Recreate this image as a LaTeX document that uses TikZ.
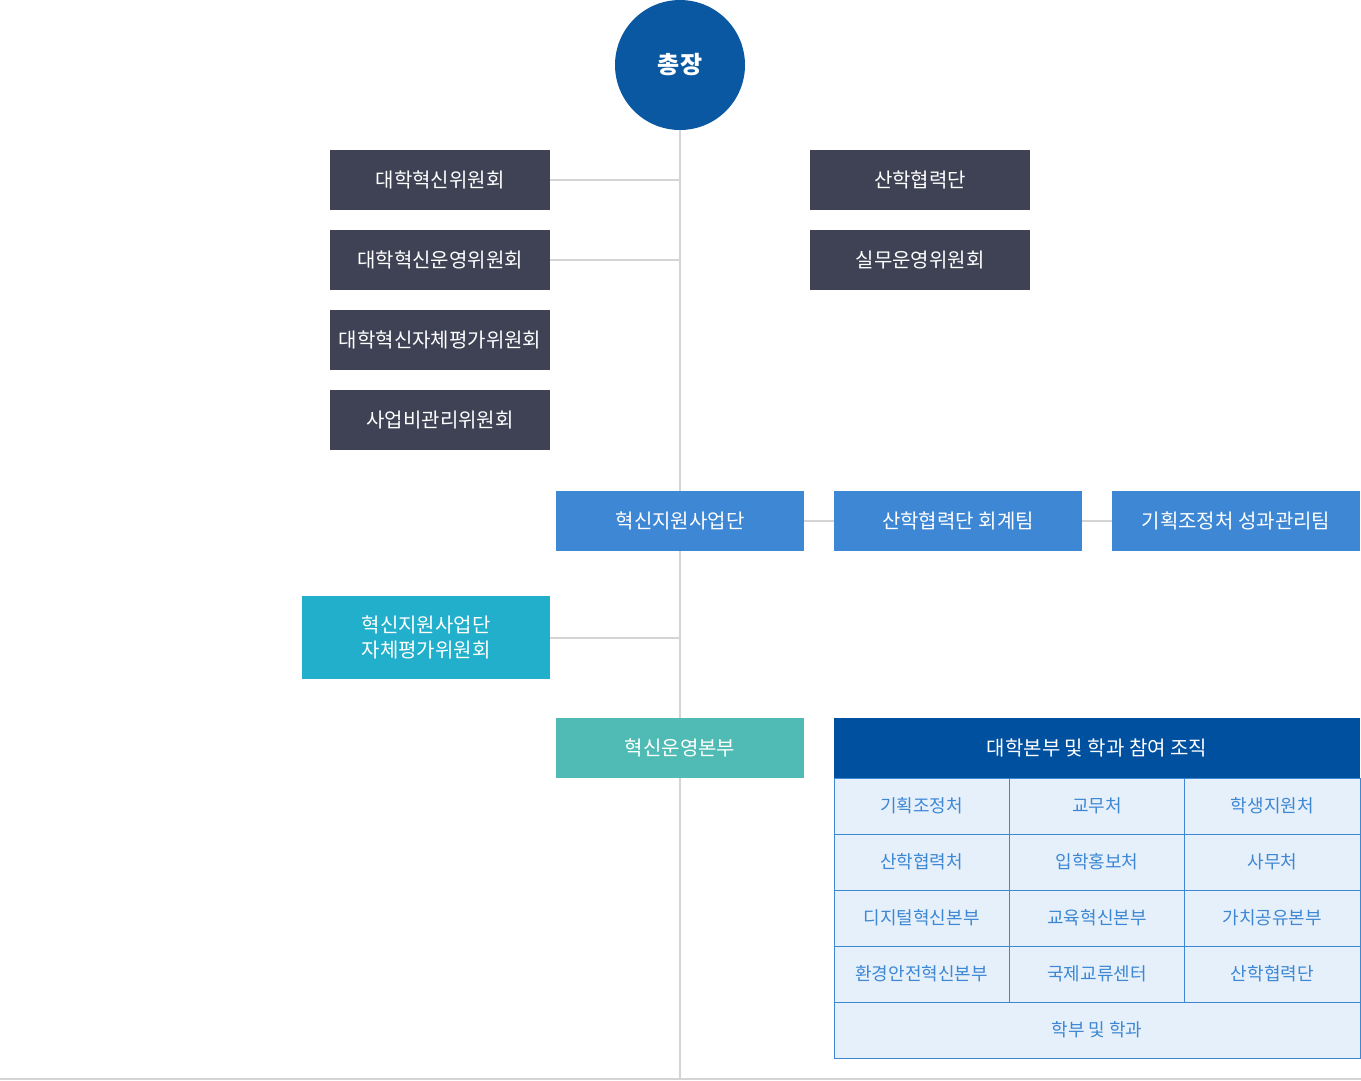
\documentclass[tikz,border=0pt]{standalone}
\usepackage{fontspec}
\setmainfont{Noto Sans CJK KR}
\definecolor{ceoC}{HTML}{0B58A2}
\definecolor{darkC}{HTML}{3F4254}
\definecolor{blueC}{HTML}{3D87D4}
\definecolor{cyanC}{HTML}{22AFCB}
\definecolor{tealC}{HTML}{4FBBB4}
\definecolor{headC}{HTML}{0050A0}
\definecolor{cellC}{HTML}{E6F0FA}
\definecolor{lineC}{HTML}{D4D4D4}
\tikzset{
  base/.style={rectangle, inner sep=0pt, text=white, font=\fontsize{20}{25}\selectfont, align=center},
  darkbox/.style={base, fill=darkC, minimum width=220pt, minimum height=60pt},
  bluebox/.style={base, fill=blueC, minimum width=248pt, minimum height=60pt},
  cyanbox/.style={base, fill=cyanC, minimum width=248pt, minimum height=83pt},
  tealbox/.style={base, fill=tealC, minimum width=248pt, minimum height=60pt},
  headbox/.style={base, fill=headC, minimum width=526pt, minimum height=60pt},
  cellbox/.style={rectangle, inner sep=0pt, fill=cellC, draw=blueC, line width=1pt, text=blueC,
    font=\fontsize{18}{22}\selectfont, minimum width=175.33pt, minimum height=56pt},
  widecell/.style={cellbox, minimum width=526pt},
  conn/.style={draw=lineC, line width=2pt},
}
\begin{document}
\begin{tikzpicture}[x=1pt, y=-1pt]
\useasboundingbox (0,0) rectangle (1361,1080);
% spine and bottom line
\coordinate (bot) at (680,1080);
\coordinate (bl) at (0,1079);
\coordinate (br) at (1361,1079);
\draw[conn] (bl) -- (br);
\node[circle, fill=ceoC, minimum size=130pt, inner sep=0pt, text=white,
  font=\fontsize{24}{28}\selectfont\bfseries] (ceo) at (680,65) {총장};
\draw[conn] (ceo.south) -- (bot);
% left dark boxes
\node[darkbox] (d1) at (440,180) {대학혁신위원회};
\node[darkbox] (d2) at (440,260) {대학혁신운영위원회};
\node[darkbox] (d3) at (440,340) {대학혁신자체평가위원회};
\node[darkbox] (d4) at (440,420) {사업비관리위원회};
% right dark boxes
\node[darkbox] (r1) at (920,180) {산학협력단};
\node[darkbox] (r2) at (920,260) {실무운영위원회};
\draw[conn] (d1.east) -- (d1.east -| ceo.south);
\draw[conn] (d2.east) -- (d2.east -| ceo.south);
% blue row
\node[bluebox] (b1) at (680,521) {혁신지원사업단};
\node[bluebox] (b2) at (958,521) {산학협력단 회계팀};
\node[bluebox] (b3) at (1236,521) {기획조정처 성과관리팀};
\draw[conn] (b1.east) -- (b2.west);
\draw[conn] (b2.east) -- (b3.west);
% cyan
\node[cyanbox] (c1) at (426,637.5) {혁신지원사업단\\자체평가위원회};
\draw[conn] (c1.east) -- (c1.east -| ceo.south);
% teal
\node[tealbox] (t1) at (680,748) {혁신운영본부};
% table
\node[headbox] (h) at (1097,748) {대학본부 및 학과 참여 조직};
\node[cellbox] (g11) at (921.67,806) {기획조정처};
\node[cellbox] (g12) at (1097,806) {교무처};
\node[cellbox] (g13) at (1272.33,806) {학생지원처};
\node[cellbox] (g21) at (921.67,862) {산학협력처};
\node[cellbox] (g22) at (1097,862) {입학홍보처};
\node[cellbox] (g23) at (1272.33,862) {사무처};
\node[cellbox] (g31) at (921.67,918) {디지털혁신본부};
\node[cellbox] (g32) at (1097,918) {교육혁신본부};
\node[cellbox] (g33) at (1272.33,918) {가치공유본부};
\node[cellbox] (g41) at (921.67,974) {환경안전혁신본부};
\node[cellbox] (g42) at (1097,974) {국제교류센터};
\node[cellbox] (g43) at (1272.33,974) {산학협력단};
\node[widecell] (g5) at (1097,1030) {학부 및 학과};
\end{tikzpicture}
\end{document}
